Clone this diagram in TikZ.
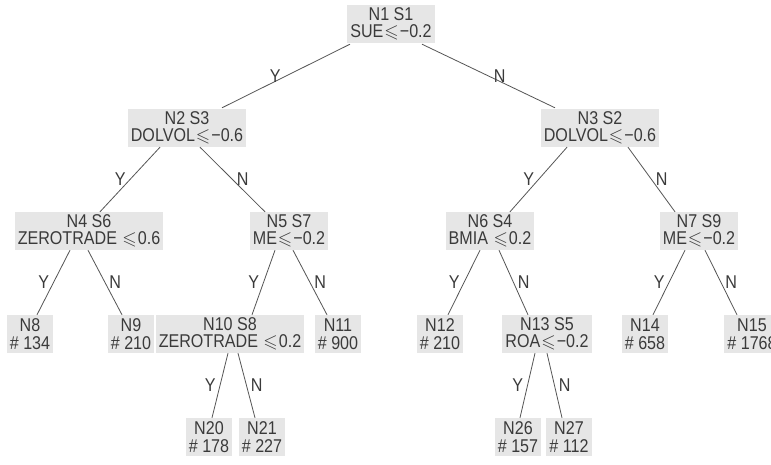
\documentclass[tikz,border=0pt]{standalone}
\usepackage{amssymb}
\usepackage{fontspec}
\setmainfont[FakeStretch=0.87]{Liberation Sans}
\definecolor{boxfill}{HTML}{E6E6E6}
\definecolor{txt}{HTML}{3A3A3A}
\definecolor{edge}{HTML}{555555}
\newcommand{\myle}{\kern1pt$\leqslant$\kern1pt}
\begin{document}
\begin{tikzpicture}[x=1pt,y=-1pt,
  tnode/.style={fill=boxfill, text=txt, align=center, inner xsep=3pt, inner ysep=0.5pt,
    minimum height=38pt, font=\fontsize{18.5}{17.5}\selectfont},
  conn/.style={draw=edge, line width=0.8pt},
  lab/.style={text=txt, font=\fontsize{18.5}{18.5}\selectfont, inner sep=2pt}]
\clip (0,0) rectangle (771,465);
\fill[white] (0,0) rectangle (771,465);
\node[tnode] (n1) at (391,24) {N1 S1\\SUE\myle{}−0.2};
\node[tnode] (n2) at (187,128) {N2 S3\\DOLVOL\myle{}−0.6};
\node[tnode] (n3) at (600,128) {N3 S2\\DOLVOL\myle{}−0.6};
\node[tnode] (n4) at (89,231) {N4 S6\\ZEROTRADE \myle{}0.6};
\node[tnode] (n5) at (289,231) {N5 S7\\ME\myle{}−0.2};
\node[tnode] (n6) at (490,231) {N6 S4\\BMIA \myle{}0.2};
\node[tnode] (n7) at (699,231) {N7 S9\\ME\myle{}−0.2};
\node[tnode] (n8) at (30,334) {N8\\\# 134};
\node[tnode] (n9) at (131,334) {N9\\\# 210};
\node[tnode] (n10) at (230,334) {N10 S8\\ZEROTRADE \myle{}0.2};
\node[tnode] (n11) at (338,334) {N11\\\# 900};
\node[tnode] (n12) at (440,334) {N12\\\# 210};
\node[tnode] (n13) at (547,334) {N13 S5\\ROA\myle{}−0.2};
\node[tnode] (n14) at (645,334) {N14\\\# 658};
\node[tnode] (n15) at (752,334) {N15\\\# 1768};
\node[tnode] (n20) at (209,437) {N20\\\# 178};
\node[tnode] (n21) at (262,437) {N21\\\# 227};
\node[tnode] (n26) at (518,437) {N26\\\# 157};
\node[tnode] (n27) at (569,437) {N27\\\# 112};
\draw[conn] ([xshift=-41pt,yshift=-1pt]n1.south) -- node[lab,left=3pt] {Y} ([xshift=35pt,yshift=1pt]n2.north);
\draw[conn] ([xshift=31pt,yshift=-1pt]n1.south) -- node[lab,right=3pt] {N} ([xshift=-45pt,yshift=1pt]n3.north);
\draw[conn] ([xshift=-27pt]n2.south) -- node[lab,left=2pt] {Y} ([xshift=11pt]n4.north);
\draw[conn] ([xshift=13pt]n2.south) -- node[lab,right=2pt] {N} ([xshift=-24pt]n5.north);
\draw[conn] ([xshift=-33pt]n3.south) -- node[lab,left=2pt] {Y} ([xshift=20pt]n6.north);
\draw[conn] ([xshift=28pt]n3.south) -- node[lab,right=2pt] {N} ([xshift=-24pt]n7.north);
\draw[conn] ([xshift=-19pt]n4.south) -- node[lab,left=2pt] {Y} ([xshift=7pt]n8.north);
\draw[conn] ([xshift=-1pt]n4.south) -- node[lab,right=2pt] {N} ([xshift=-9pt]n9.north);
\draw[conn] ([xshift=-14pt]n5.south) -- node[lab,left=2pt] {Y} ([xshift=22pt]n10.north);
\draw[conn] ([xshift=4pt]n5.south) -- node[lab,right=2pt] {N} ([xshift=-11pt]n11.north);
\draw[conn] ([xshift=-10pt]n6.south) -- node[lab,left=2pt] {Y} ([xshift=8pt]n12.north);
\draw[conn] ([xshift=9pt]n6.south) -- node[lab,right=2pt] {N} ([xshift=-19pt]n13.north);
\draw[conn] ([xshift=-14pt]n7.south) -- node[lab,left=2pt] {Y} ([xshift=8pt]n14.north);
\draw[conn] ([xshift=6pt]n7.south) -- node[lab,right=2pt] {N} ([xshift=-15pt]n15.north);
\draw[conn] ([xshift=-2pt]n10.south) -- node[lab,left=2pt] {Y} ([xshift=3pt]n20.north);
\draw[conn] ([xshift=8pt]n10.south) -- node[lab,right=2pt] {N} ([xshift=-7pt]n21.north);
\draw[conn] ([xshift=-12pt]n13.south) -- node[lab,left=2pt] {Y} ([xshift=2pt]n26.north);
\draw[conn] ([xshift=0pt]n13.south) -- node[lab,right=2pt] {N} ([xshift=-7pt]n27.north);
\end{tikzpicture}
\end{document}
